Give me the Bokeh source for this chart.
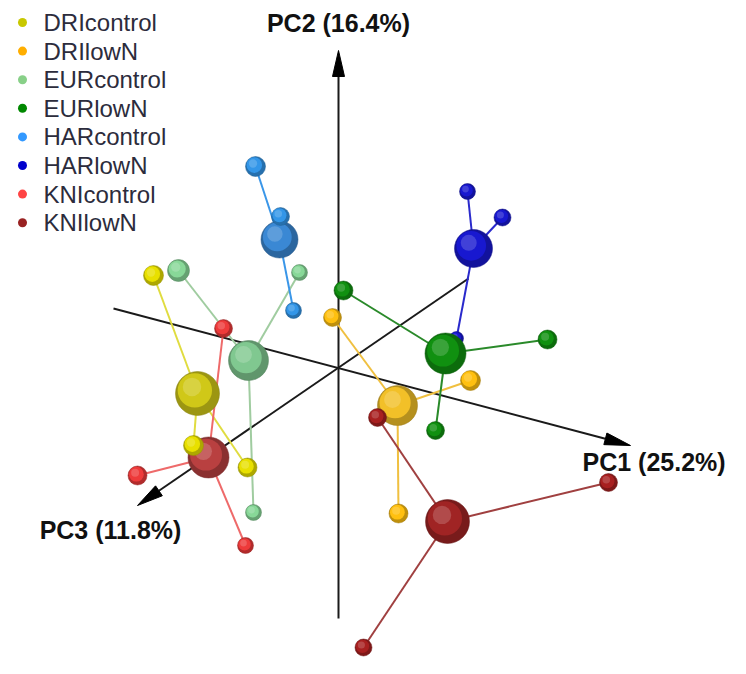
import numpy as np
from bokeh.plotting import figure
from bokeh.models import Range1d
from bokeh.core.properties import value
from bokeh.embed import file_html
from bokeh.resources import INLINE

# ---------------- data (projected 3-D PCA scores, screen units) ----------------
groups = ["DRIcontrol", "DRIlowN", "EURcontrol", "EURlowN",
          "HARcontrol", "HARlowN", "KNIcontrol", "KNIlowN"]
legend_colors = ["#c8c800", "#ffae00", "#88d088", "#008800",
                 "#3399ff", "#0000cc", "#ff4444", "#992222"]
sphere_colors = ["#d0c818", "#f2c028", "#80c890", "#109010",
                 "#3a88d4", "#1818d0", "#b94040", "#a02424"]
sample_colors = ["#e8e000", "#ffc010", "#88d898", "#109010",
                 "#3396e8", "#1818d0", "#ee3a3a", "#a82020"]
line_colors = ["#e0dc40", "#f0c040", "#a0cca0", "#2a8a2a",
               "#3a96e8", "#2a2acc", "#ee6a6a", "#a04040"]

centroid_x = [197, 397, 248, 445, 279, 473, 208, 447]
centroid_y = [393, 405, 360, 353, 239, 248, 457, 521]
centroid_size = [44, 40, 40, 41, 37, 38, 41, 44]

sample_x = [[153, 193, 247], [332, 470, 398], [178, 299, 253], [343, 547, 435],
            [255, 280, 293], [467, 502, 456], [223, 137, 245], [377, 608, 363]]
sample_y = [[275, 445, 467], [317, 380, 513], [270, 272, 512], [290, 339, 430],
            [166, 216, 310], [191, 217, 338], [328, 475, 545], [417, 482, 647]]
sample_size = [[20, 20, 19], [18, 20, 19], [22, 16, 16], [19, 19, 18],
               [20, 18, 16], [16, 17, 14], [18, 19, 16], [18, 18, 17]]
# 1 = sample lies in front of the centroid spheres
sample_front = [[0, 1, 0], [0, 0, 0], [0, 0, 0], [0, 0, 0],
                [0, 1, 0], [0, 0, 0], [0, 0, 0], [1, 0, 0]]

axis_labels = ["PC1 (25.2%)", "PC2 (16.4%)", "PC3 (11.8%)"]
axis_start_x = [113, 338, 468]
axis_start_y = [308, 618, 278]
axis_tip_x = [630, 338, 137]
axis_tip_y = [445, 50, 505]
label_x = [582, 338, 110]
label_y = [461, 22, 529]
label_align = ["left", "center", "center"]

# ---------------- helpers ----------------
def mix(hexc, other, t):
    h = hexc.lstrip("#")
    r, g, b = int(h[0:2], 16), int(h[2:4], 16), int(h[4:6], 16)
    r = int(r + (other[0] - r) * t); g = int(g + (other[1] - g) * t); b = int(b + (other[2] - b) * t)
    return "#%02x%02x%02x" % (r, g, b)

def lighter(c, t):
    return mix(c, (255, 255, 255), t)

def darker(c, t):
    return mix(c, (0, 0, 0), t)

W, H = 730, 658
p = figure(width=W, height=H, output_backend="svg", toolbar_location=None,
           x_range=Range1d(0, W), y_range=Range1d(H, 0),
           x_axis_type=None, y_axis_type=None, min_border=0)
p.outline_line_color = None
p.xgrid.visible = False
p.ygrid.visible = False
p.background_fill_color = "white"

# ---------------- axes ----------------
for i in range(3):
    sx, sy, tx, ty = axis_start_x[i], axis_start_y[i], axis_tip_x[i], axis_tip_y[i]
    d = np.array([tx - sx, ty - sy], dtype=float)
    d /= np.hypot(*d)
    n = np.array([-d[1], d[0]])
    L, Wd = 26.0, 12.0
    base = np.array([tx, ty]) - L * d
    p.line([sx, base[0]], [sy, base[1]], line_color="#1a1a1a", line_width=2)
    c1 = base + n * Wd / 2
    c2 = base - n * Wd / 2
    p.patch([tx, c1[0], c2[0]], [ty, c1[1], c2[1]], fill_color="#000000", line_color="#000000")

p.text(x=label_x, y=label_y, text=axis_labels,
       text_font=value("Liberation Sans"), text_font_style="bold",
       text_font_size="25px", text_color="#111111",
       text_baseline="middle", text_align=label_align)

# ---------------- connecting lines ----------------
for g in range(len(groups)):
    for k in range(len(sample_x[g])):
        p.line([centroid_x[g], sample_x[g][k]], [centroid_y[g], sample_y[g][k]],
               line_color=line_colors[g], line_width=2)

# ---------------- spheres ----------------
def sphere(xs, ys, sizes, color):
    xs = np.asarray(xs, float); ys = np.asarray(ys, float); sizes = np.asarray(sizes, float)
    r = sizes / 2.0
    p.scatter(xs, ys, size=sizes, fill_color=darker(color, 0.25), line_color=darker(color, 0.35),
              line_alpha=0.5, line_width=1)
    p.scatter(xs - 0.12 * r, ys - 0.14 * r, size=sizes * 0.78, fill_color=color, line_color=None)
    p.scatter(xs - 0.25 * r, ys - 0.3 * r, size=sizes * 0.42,
              fill_color=lighter(color, 0.3), fill_alpha=0.6, line_color=None)

def draw_samples(front):
    for g in range(len(groups)):
        idx = [k for k in range(len(sample_x[g])) if sample_front[g][k] == front]
        if idx:
            sphere([sample_x[g][k] for k in idx], [sample_y[g][k] for k in idx],
                   [sample_size[g][k] for k in idx], sample_colors[g])

draw_samples(0)
order = sorted(range(len(groups)), key=lambda g: centroid_size[g])
for g in order:
    sphere([centroid_x[g]], [centroid_y[g]], [centroid_size[g]], sphere_colors[g])
draw_samples(1)

# ---------------- legend ----------------
leg_y = [22 + 28.6 * i for i in range(len(groups))]
p.scatter([22] * len(groups), leg_y, size=9, fill_color=legend_colors, line_color=None)
p.text(x=[43] * len(groups), y=leg_y, text=groups,
       text_font=value("Liberation Sans"), text_font_size="24px",
       text_color="#2c2c3c", text_baseline="middle", text_align="left")

open("out.html", "w").write(file_html(p, INLINE))
